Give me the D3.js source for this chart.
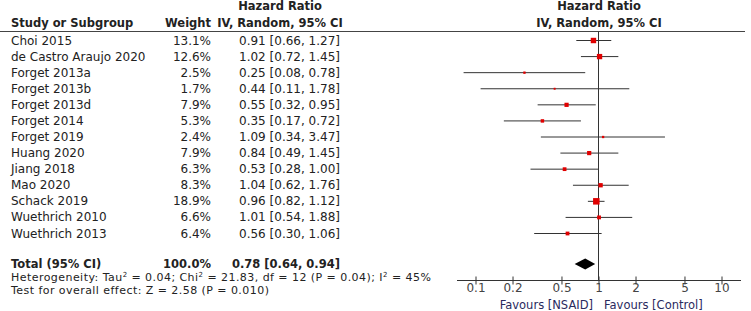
<!DOCTYPE html>
<html>
<head>
<meta charset="utf-8">
<script src="https://cdn.jsdelivr.net/npm/d3@7"></script>
<style>
  body { margin: 0; background: #fff; }
  svg { display: block; font-family: "DejaVu Sans", Verdana, sans-serif; }
</style>
</head>
<body>
<div class="forest"></div>
<script>
// study data
const studies = ["Choi 2015", "de Castro Araujo 2020", "Forget 2013a", "Forget 2013b", "Forget 2013d",
    "Forget 2014", "Forget 2019", "Huang 2020", "Jiang 2018", "Mao 2020", "Schack 2019",
    "Wuethrich 2010", "Wuethrich 2013"];
const weights = [13.1, 12.6, 2.5, 1.7, 7.9, 5.3, 2.4, 7.9, 6.3, 8.3, 18.9, 6.6, 6.4];
const hr = [0.91, 1.02, 0.25, 0.44, 0.55, 0.35, 1.09, 0.84, 0.53, 1.04, 0.96, 1.01, 0.56];
const lower = [0.66, 0.72, 0.08, 0.11, 0.32, 0.17, 0.34, 0.49, 0.28, 0.62, 0.82, 0.54, 0.30];
const upper = [1.27, 1.45, 0.78, 1.78, 0.95, 0.72, 3.47, 1.45, 1.00, 1.76, 1.12, 1.88, 1.06];

// pooled estimate
const total = { hr: 0.78, lower: 0.64, upper: 0.94, weight: "100.0%" };

const tick_values = [0.1, 0.2, 0.5, 1, 2, 5, 10];
const tick_labels = ["0.1", "0.2", "0.5", "1", "2", "5", "10"];

// constants
const width = 751;
const height = 311;
const text_color = "#222";

let svg = d3.select(".forest").append("svg")
    .attr("width", width)
    .attr("height", height);

// scales
const x_scale = d3.scaleLog()
    .domain([0.1, 10])
    .range([475.5, 721.5]);

const y_scale = d3.scalePoint()
    .domain(studies)
    .range([40, 233]);

const size_scale = d3.scaleSqrt()
    .domain([0, 18.9])
    .range([0, 6.5]);

// headers
const bold = svg.append("g")
    .attr("font-weight", "bold")
    .attr("font-size", "11.5px")
    .attr("fill", text_color);

bold.append("text").attr("x", 11).attr("y", 27).text("Study or Subgroup");
bold.append("text").attr("x", 211).attr("y", 27).attr("text-anchor", "end").text("Weight");
bold.append("text").attr("x", 280).attr("y", 10).attr("text-anchor", "middle").text("Hazard Ratio");
bold.append("text").attr("x", 280).attr("y", 27).attr("text-anchor", "middle").text("IV, Random, 95% CI");
bold.append("text").attr("x", 599).attr("y", 10).attr("text-anchor", "middle").text("Hazard Ratio");
bold.append("text").attr("x", 599).attr("y", 27).attr("text-anchor", "middle").text("IV, Random, 95% CI");

// header rule
svg.append("line")
    .attr("x1", 0).attr("x2", 745)
    .attr("y1", 31.5).attr("y2", 31.5)
    .attr("stroke", "#444").attr("stroke-width", 1);

// study rows
const rows = svg.append("g")
    .attr("font-size", "12px")
    .attr("fill", text_color);

studies.forEach(function(s, i) {
    const y = y_scale(s) + 4.5;
    rows.append("text").attr("x", 11).attr("y", y).text(s);
    rows.append("text").attr("x", 211).attr("y", y).attr("text-anchor", "end")
        .text(weights[i].toFixed(1) + "%");
    rows.append("text").attr("x", 340).attr("y", y).attr("text-anchor", "end")
        .text(hr[i].toFixed(2) + " [" + lower[i].toFixed(2) + ", " + upper[i].toFixed(2) + "]");
});

// total row
bold.append("text").attr("x", 11).attr("y", 267.5).text("Total (95% CI)");
bold.append("text").attr("x", 211).attr("y", 267.5).attr("text-anchor", "end").text(total.weight);
bold.append("text").attr("x", 340).attr("y", 267.5).attr("text-anchor", "end")
    .text(total.hr.toFixed(2) + " [" + total.lower.toFixed(2) + ", " + total.upper.toFixed(2) + "]");

// summary statistics
const stats = svg.append("g")
    .attr("font-size", "11px")
    .attr("letter-spacing", "0.45px")
    .attr("fill", text_color);

const het = stats.append("text").attr("x", 11).attr("y", 280.5);
het.append("tspan").text("Heterogeneity: Tau");
het.append("tspan").attr("font-size", "7px").attr("dy", -4).text("2");
het.append("tspan").attr("dy", 4).text(" = 0.04; Chi");
het.append("tspan").attr("font-size", "7px").attr("dy", -4).text("2");
het.append("tspan").attr("dy", 4).text(" = 21.83, df = 12 (P = 0.04); I");
het.append("tspan").attr("font-size", "7px").attr("dy", -4).text("2");
het.append("tspan").attr("dy", 4).text(" = 45%");

stats.append("text").attr("x", 11).attr("y", 293.5).text("Test for overall effect: Z = 2.58 (P = 0.010)");

// line of no effect
svg.append("line")
    .attr("x1", x_scale(1)).attr("x2", x_scale(1))
    .attr("y1", 31.5).attr("y2", 280)
    .attr("stroke", "#333").attr("stroke-width", 1);

// confidence intervals
svg.selectAll(".ci")
    .data(studies).enter()
    .append("line")
    .attr("class", "ci")
    .attr("x1", function(d, i) { return x_scale(lower[i]); })
    .attr("x2", function(d, i) { return x_scale(upper[i]); })
    .attr("y1", function(d) { return y_scale(d) + 0.5; })
    .attr("y2", function(d) { return y_scale(d) + 0.5; })
    .attr("stroke", "#333")
    .attr("stroke-width", 1);

// weight squares
svg.selectAll(".dot")
    .data(studies).enter()
    .append("rect")
    .attr("class", "dot")
    .attr("x", function(d, i) { return x_scale(hr[i]) - size_scale(weights[i]) / 2; })
    .attr("y", function(d, i) { return y_scale(d) + 0.5 - size_scale(weights[i]) / 2; })
    .attr("width", function(d, i) { return size_scale(weights[i]); })
    .attr("height", function(d, i) { return size_scale(weights[i]); })
    .attr("fill", "#e00000");

// pooled diamond
const dy = 264;
svg.append("path")
    .attr("d", "M" + x_scale(total.lower) + "," + dy +
        "L" + x_scale(total.hr) + "," + (dy - 5.5) +
        "L" + x_scale(total.upper) + "," + dy +
        "L" + x_scale(total.hr) + "," + (dy + 5.5) + "Z")
    .attr("fill", "#000");

// x axis
const axis_y = 280;
svg.append("line")
    .attr("x1", 457).attr("x2", 741)
    .attr("y1", axis_y + 0.5).attr("y2", axis_y + 0.5)
    .attr("stroke", "#333");

const x_axis = d3.axisBottom(x_scale)
    .tickValues(tick_values)
    .tickFormat(function(d, i) { return tick_labels[i]; })
    .tickSizeInner(4)
    .tickSizeOuter(0);

const ax = svg.append("g")
    .attr("transform", "translate(0," + (axis_y + 0.5) + ")")
    .call(x_axis);
ax.select(".domain").remove();
ax.selectAll(".tick line").attr("y1", -4).attr("stroke", "#333");
ax.selectAll(".tick text")
    .attr("y", 3)
    .attr("font-family", "DejaVu Sans, sans-serif")
    .attr("font-size", "12px")
    .attr("fill", "#444");

// favours labels
const fav = svg.append("g")
    .attr("font-size", "11.5px")
    .attr("fill", "#2a2a5e");
fav.append("text").attr("x", 593).attr("y", 308.5).attr("text-anchor", "end").text("Favours [NSAID]");
fav.append("text").attr("x", 604).attr("y", 308.5).text("Favours [Control]");
</script>
</body>
</html>
